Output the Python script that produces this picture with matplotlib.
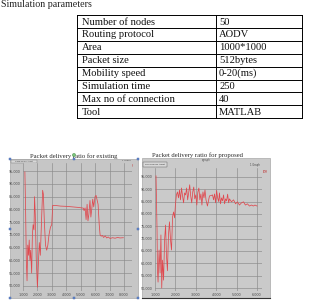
import matplotlib
matplotlib.use("Agg")
import matplotlib.pyplot as plt
from matplotlib.patches import Rectangle, Circle

W, H = 321, 303

# simulation parameter table
param_names = ["Number of nodes", "Routing protocol", "Area", "Packet size",
               "Mobility speed", "Simulation time", "Max no of connection", "Tool"]
param_values = ["50", "AODV", "1000*1000", "512bytes", "0-20(ms)", "250", "40", "MATLAB"]

# packet delivery ratio, existing scheme
exist_x = [1130, 1180, 1230, 1280, 1330, 1380, 1430, 1480, 1530, 1600,
           1650, 1700, 1760, 1800, 1850, 1920, 2000, 2060, 2130, 2200,
           2280, 2360, 2410, 2480, 2560, 2640, 2720, 2800, 2900, 2990,
           3060, 3300, 3600, 4000, 4400, 4800, 5180, 5230, 5300, 5370,
           5440, 5500, 5560, 5640, 5700, 5760, 5830, 5900, 5990, 6060,
           6120, 6200, 6280, 6340, 6420, 6500, 6580, 6700, 6800, 6900,
           7030, 7200, 7380, 7550, 7720, 7950]
exist_y = [94.7, 80, 60, 52, 66, 62, 68, 60, 64, 55,
           70, 74, 72, 85, 78, 60, 49.5, 58, 67, 62,
           75, 87.5, 86, 75, 66, 64, 66, 70, 73, 74,
           81.6, 81.5, 81.3, 81.2, 81.0, 80.8, 80.5, 79.5, 80.6, 76,
           82, 75.5, 78, 83.5, 77, 80, 84, 81, 85, 85.5,
           84, 82, 74, 70, 69.5, 69.8, 69, 69.6, 68.8, 69.2,
           68.6, 68.9, 68.7, 69, 68.8, 68.9]

# packet delivery ratio, proposed scheme
prop_x = [1050, 1100, 1120, 1150, 1200, 1250, 1290, 1330, 1370, 1420,
          1470, 1520, 1560, 1610, 1660, 1710, 1760, 1810, 1860, 1910,
          1960, 2000, 2050, 2100, 2150, 2200, 2250, 2300, 2350, 2400,
          2450, 2500, 2550, 2600, 2650, 2700, 2750, 2800, 2850, 2900,
          2950, 3000, 3050, 3100, 3150, 3200, 3250, 3300, 3350, 3400,
          3450, 3500, 3570, 3670, 3770, 3820, 3870, 3920, 3970, 4020,
          4070, 4120, 4160, 4210, 4260, 4310, 4360, 4410, 4460, 4510,
          4560, 4610, 4650, 4750, 4850, 4950, 5040, 5140, 5240, 5340,
          5430, 5530, 5630, 5730, 5820, 5900, 6000]
prop_y = [95.4, 73.5, 57.3, 52.4, 65.4, 56.1, 71.5, 50.0, 61.3, 53.2,
          69.5, 75.5, 63.4, 57.0, 71.5, 76.8, 69.5, 65.4, 78.8, 80.8,
          78.4, 83.6, 87.7, 88.9, 86.5, 89.7, 85.7, 90.5, 87.3, 84.5,
          88.5, 87.7, 90.5, 85.7, 88.5, 91.8, 87.3, 84.5, 88.9, 90.9,
          86.1, 87.7, 83.6, 88.9, 90.5, 85.7, 88.1, 83.6, 88.9, 86.5,
          89.7, 85.7, 83.2, 87.3, 87.5, 87.7, 85.7, 88.1, 84.5, 89.5,
          86.5, 85.0, 88.5, 84.1, 86.5, 85.3, 87.7, 84.1, 86.1, 85.3,
          88.0, 84.5, 86.1, 84.9, 85.7, 84.1, 84.9, 83.6, 84.5, 84.9,
          83.6, 84.1, 83.2, 83.6, 83.2, 83.6, 83.2]

y_ticks = [95, 90, 85, 80, 75, 70, 65, 60, 55, 50]
exist_xticks = [1000, 2000, 3000, 4000, 5000, 6000, 7000, 8000]
prop_xticks = [1000, 2000, 3000, 4000, 5000, 6000]


def frac(x0, y0, x1, y1):
    return [x0 / W, 1 - y1 / H, (x1 - x0) / W, (y1 - y0) / H]


fig = plt.figure(figsize=(W / 100, H / 100), dpi=100)
fig.patch.set_facecolor("white")

# overlay in pixel coordinates for the page decorations
page = fig.add_axes([0, 0, 1, 1])
page.set_xlim(0, W)
page.set_ylim(H, 0)
page.axis("off")

page.text(1, 0.3, "Simulation parameters", fontsize=7.2, family="Liberation Serif",
          va="top", ha="left", color="#222")

# table
tx0, tx1, tx2 = 77, 216, 302
ty0, row_h = 15, 12.9
n = len(param_names)
for i in range(n + 1):
    page.plot([tx0, tx2], [ty0 + i * row_h] * 2, color="black", lw=0.7)
for xx in (tx0, tx1, tx2):
    page.plot([xx, xx], [ty0, ty0 + n * row_h], color="black", lw=0.7)
for i, (name, val) in enumerate(zip(param_names, param_values)):
    yc = ty0 + (i + 0.55) * row_h
    page.text(tx0 + 5, yc, name, fontsize=7.6, family="Liberation Serif",
              va="center", ha="left", color="#111")
    page.text(tx1 + 3, yc, val, fontsize=7.6, family="Liberation Serif",
              va="center", ha="left", color="#111")


def xgraph(panel, inner, xs, ys, xticks, xlim, ylim, title, title_xy, bg):
    px0, py0, px1, py1 = panel
    page.add_patch(Rectangle((px0, py0), px1 - px0, py1 - py0, facecolor=bg,
                             edgecolor="#a8a8a8", lw=0.5, zorder=1))
    page.text(title_xy[0], title_xy[1], title, fontsize=4.8, family="Liberation Serif",
              ha="center", va="center", color="#2a2a2a", zorder=5)
    ax = fig.add_axes(frac(*inner))
    ax.set_facecolor(bg)
    ax.plot(xs, ys, color="#e0484e", lw=0.55)
    ax.set_xlim(*xlim)
    ax.set_ylim(*ylim)
    ax.set_xticks(xticks)
    ax.set_xticklabels([f"{t // 1000},000" for t in xticks])
    ax.set_yticks(y_ticks)
    ax.set_yticklabels([f"{t},000" for t in y_ticks])
    ax.tick_params(length=0, labelsize=2.4, labelcolor="#4a4a4a", pad=1.5)
    ax.grid(color="#8a8a8a", lw=0.45)
    for s in ax.spines.values():
        s.set_visible(False)
    return ax


xgraph((10, 159, 138, 298), (23, 163, 132, 291), exist_x, exist_y, exist_xticks,
       (1000, 8550), (48.0, 98.2), "Packet delivery ratio for existing", (74, 156), "#c6c6c6")
xgraph((142, 158, 270, 298), (155, 168, 262, 291), prop_x, prop_y, prop_xticks,
       (1000, 6245), (48.8, 98.6), "Packet delivery ratio for proposed", (198, 155.5), "#cacaca")

# xgraph window chrome
page.add_patch(Rectangle((11, 160), 26, 3, facecolor="#d8d8d8", edgecolor="#777", lw=0.3, zorder=3))
page.text(24, 161.5, "Close Hdcpy About", fontsize=1.4, ha="center", va="center", color="#333", zorder=4)
page.add_patch(Rectangle((143, 162), 24, 4.5, facecolor="#d8d8d8", edgecolor="#555", lw=0.3, zorder=3))
page.text(155, 164.2, "Close Hdcpy About", fontsize=1.5, ha="center", va="center", color="#222", zorder=4)
page.text(206, 160.5, "xgraph", fontsize=1.8, ha="center", va="center", color="#555", zorder=4)
page.text(126, 160, "1 Graph", fontsize=1.6, ha="center", va="center", color="#444", zorder=4)
page.text(255, 165, "1 Graph", fontsize=1.8, ha="center", va="center", color="#444", zorder=4)
page.text(131, 166, "PDR", fontsize=1.8, ha="center", va="center", color="#c03030", zorder=4)
page.text(265, 172, "PDR", fontsize=1.8, ha="center", va="center", color="#c03030", zorder=4)
page.plot([142, 270], [298, 298], color="#333", lw=0.8, zorder=4)

# selection handles around the left picture
for hx, hy in [(10, 159), (138, 159), (10, 229), (138, 229),
               (10, 298), (74, 298), (138, 298), (74, 159)]:
    page.add_patch(Rectangle((hx - 1.3, hy - 1.3), 2.6, 2.6, facecolor="#6d8fd0",
                             edgecolor="#3a5fa8", lw=0.3, zorder=6))
page.add_patch(Circle((74, 155), 1.6, facecolor="#7bc47b", edgecolor="#3d8a3d", lw=0.3, zorder=6))

fig.savefig("out.png", dpi=100)
